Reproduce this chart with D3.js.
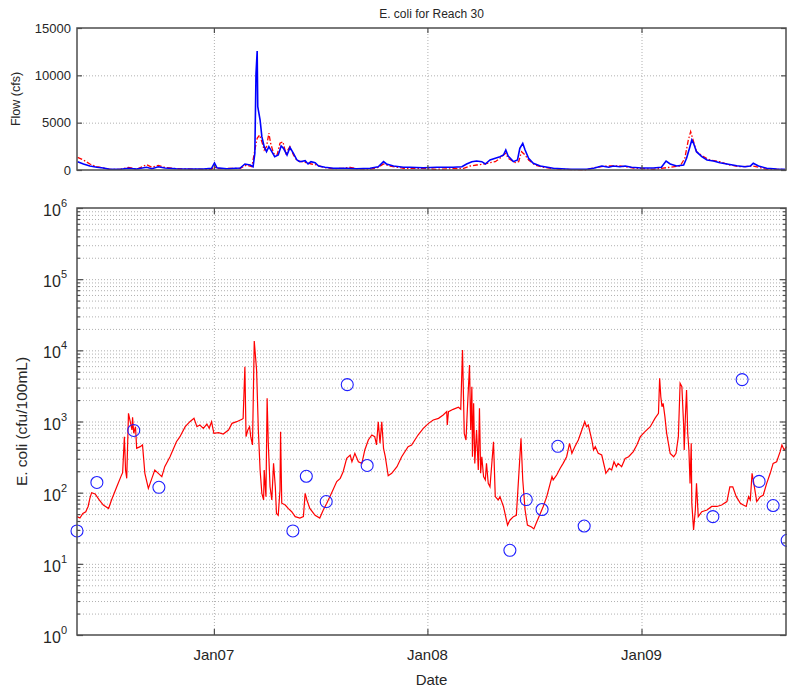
<!DOCTYPE html>
<html>
<head>
    <meta charset="utf-8">
    <title>E. coli for Reach 30</title>
    <script src="https://d3js.org/d3.v7.min.js"></script>
    <style>
        body { margin: 0; background: #fff; }
        svg { display: block; font-family: "Liberation Sans", Arial, sans-serif; }
        .grid line { stroke: #b0b0b0; stroke-dasharray: 1,2; }
        .grid .major line { stroke: #8c8c8c; }
        .grid path { display: none; }
    </style>
</head>
<body>
<svg width="787" height="688"></svg>
<script>
    // series start (day 0) - all day values below count from here
    const startDate = new Date(2006, 4, 12);
    const endDate = new Date(2009, 8, 5);

    // simulated E. coli (cfu/100mL), red line
    const ecoliDay = [0,5,10,15,19,22,25,31,38,45,54,59,68,75,78,81,83,85,88,91,94,95,97,100,102,108,112,116,122,128,133,139,145,150,159,170,176,185,193,200,205,210,216,222,226,230,234,242,250,259,265,273,282,284,287,289,292,295,297,300,303,307,310,313,316,319,320,323,325,327,330,333,336,339,341,344,347,348,350,356,361,367,373,381,387,390,393,398,407,415,421,427,435,444,450,455,461,467,470,475,481,487,492,498,504,509,512,515,518,521,524,527,532,538,547,555,566,572,583,592,601,609,618,626,632,633,635,643,652,656,659,662,665,667,671,673,675,676,678,680,683,686,688,690,692,695,698,700,703,706,712,715,720,723,729,736,740,746,751,753,759,762,766,770,777,781,786,792,797,803,812,814,820,826,831,837,842,846,851,857,863,868,871,874,880,883,886,891,897,903,904,910,914,918,922,925,931,937,943,951,957,963,971,980,988,994,996,998,1000,1002,1005,1008,1014,1020,1024,1028,1031,1034,1037,1038,1040,1042,1044,1046,1048,1050,1051,1054,1057,1059,1062,1068,1077,1085,1094,1102,1111,1116,1121,1127,1134,1139,1144,1148,1151,1154,1157,1162,1168,1173,1179,1185,1190,1196,1202,1205,1209,1213];
    const ecoliSim = [46,44,51,54,64,83,100,96,79,67,60,79,121,168,191,612,208,159,1300,993,760,1150,682,845,420,443,468,187,115,159,208,187,168,232,320,520,612,845,994,1107,845,893,802,922,802,994,682,697,667,760,942,994,1072,1107,5890,612,760,845,612,468,13500,5290,760,208,98,79,208,88,2120,494,121,79,258,121,51,48,109,720,71,67,60,54,46,44,46,98,79,60,48,44,57,71,98,143,159,197,303,338,272,357,272,258,398,550,646,612,468,994,494,994,420,320,173,187,232,320,443,468,646,802,942,1049,1107,1233,1374,893,1374,1483,1583,1483,10100,682,550,1300,6220,760,3080,320,1800,258,760,208,1530,187,320,168,151,258,135,121,520,88,79,88,64,35,41,46,48,88,580,151,57,35,33,31,39,51,64,88,168,151,177,220,258,320,494,357,443,550,760,994,845,893,550,398,443,357,338,208,187,220,208,272,232,258,232,303,320,377,468,612,720,845,1107,1300,4050,2230,1615,1800,1170,682,357,320,357,612,3440,3080,893,398,1170,2770,682,398,135,494,71,30,57,135,46,54,57,64,64,67,75,121,121,88,71,67,64,88,79,187,135,75,88,92,135,187,258,272,377,468,398,443];

    // observed E. coli samples, blue circles
    const obsDay = [0,34,97,140,369,392,426,462,496,740,768,795,822,867,1087,1137,1166,1190,1214];
    const obsEcoli = [29,139,748,119,29,170,75,3300,241,15.5,80,58,448,34,46,3880,144,66,21.4];

    // observed flow (cfs), blue solid
    const flowObsDay = [1,11,22,34,45,56,74,88,102,119,128,139,150,170,193,216,230,235,239,256,279,287,296,301,304,306,308,309,313,316,320,324,328,333,338,344,349,353,359,364,370,376,381,390,395,400,407,413,424,438,461,478,501,515,524,529,541,558,569,592,615,643,658,666,675,683,692,698,706,715,723,729,733,737,746,753,757,762,766,772,780,792,814,843,871,883,897,909,917,928,937,948,965,985,999,1007,1014,1025,1037,1042,1047,1051,1054,1059,1068,1077,1088,1099,1111,1128,1142,1151,1156,1165,1179,1196,1210];
    const flowObs = [876,634,422,285,211,74,74,180,106,285,137,348,211,137,106,106,180,750,243,137,211,634,528,348,1760,10200,12570,6690,5280,3520,2460,1935,2460,1935,1405,1584,2534,2290,1584,2390,1760,1056,880,985,634,880,775,422,285,180,180,137,180,348,880,634,422,285,285,243,285,285,348,634,880,950,880,634,1056,1235,1405,1584,2110,1478,880,1056,2290,2820,2110,1235,707,422,180,74,74,180,422,285,422,348,422,285,211,211,285,950,634,422,528,1235,2290,3170,2820,1935,1405,1056,950,775,634,457,348,422,707,422,180,106,74];

    // simulated flow (cfs), red dash-dot
    const flowSimDay = [1,11,22,34,45,56,74,88,102,119,128,139,150,170,216,230,235,239,279,290,299,304,308,312,316,320,324,328,331,336,342,347,352,357,364,370,376,384,393,401,410,421,438,455,467,478,501,515,524,535,558,586,615,643,661,672,683,695,706,715,723,729,733,737,749,755,760,766,772,783,797,826,871,888,906,928,951,985,1031,1039,1045,1049,1054,1059,1071,1082,1099,1116,1133,1156,1179,1210];
    const flowSim = [1340,1056,634,348,211,74,74,285,74,560,285,493,285,137,74,74,348,137,180,528,348,2110,3350,3700,2990,2110,2460,3900,2820,1760,1584,2820,2990,1760,2460,1584,985,880,775,634,528,285,137,180,285,137,74,285,634,422,180,180,74,137,180,422,528,634,775,880,1235,1584,1760,1235,775,880,1935,1584,1056,528,285,74,20,285,422,422,211,74,422,1235,3170,4050,2990,1935,1405,1056,880,528,348,422,74,74];

    const flowTicks = [0, 5000, 10000, 15000];
    const logMajors = [1, 10, 100, 1000, 10000, 100000, 1000000];
    const yearTicks = [new Date(2007, 0, 1), new Date(2008, 0, 1), new Date(2009, 0, 1)];

    const toDate = d => d3.timeDay.offset(startDate, d);

    const L = 77, R = 786;
    const T1 = 28, B1 = 170;   // flow panel
    const T2 = 208, B2 = 635;  // e. coli panel
    const textColor = "#262626";
    const frameColor = "#4d4d4d";

    const svg = d3.select("svg");

    const x = d3.scaleTime().domain([startDate, endDate]).range([L, R]);
    const yFlow = d3.scaleLinear().domain([0, 15000]).range([B1, T1]);
    const yLog = d3.scaleLog().domain([1, 1e6]).range([B2, T2]);

    // minor log values 2..9 per decade
    const logMinors = [];
    for (let k = 0; k < 6; k++) {
        for (let m = 2; m <= 9; m++) logMinors.push(m * Math.pow(10, k));
    }

    // ---------- gridlines ----------
    // flow panel
    svg.append("g").attr("class", "grid major")
        .attr("transform", `translate(${L},0)`)
        .call(d3.axisLeft(yFlow).tickValues([5000, 10000]).tickSize(-(R - L)).tickFormat(""));
    svg.append("g").attr("class", "grid")
        .attr("transform", `translate(0,${B1})`)
        .call(d3.axisBottom(x).tickValues(yearTicks).tickSize(-(B1 - T1)).tickFormat(""));

    // e. coli panel
    svg.append("g").attr("class", "grid")
        .attr("transform", `translate(${L},0)`)
        .call(d3.axisLeft(yLog).tickValues(logMinors).tickSize(-(R - L)).tickFormat(""));
    svg.append("g").attr("class", "grid major")
        .attr("transform", `translate(${L},0)`)
        .call(d3.axisLeft(yLog).tickValues(logMajors.slice(1, -1)).tickSize(-(R - L)).tickFormat(""));
    svg.append("g").attr("class", "grid")
        .attr("transform", `translate(0,${B2})`)
        .call(d3.axisBottom(x).tickValues(yearTicks).tickSize(-(B2 - T2)).tickFormat(""));

    // ---------- flow lines ----------
    const flowLine = d3.line().x(d => x(toDate(d[0]))).y(d => yFlow(d[1]));
    svg.append("path")
        .datum(d3.zip(flowSimDay, flowSim))
        .attr("d", flowLine)
        .attr("fill", "none")
        .attr("stroke", "#ff0000")
        .attr("stroke-width", 1.3)
        .attr("stroke-dasharray", "5,2,1.5,2");
    svg.append("path")
        .datum(d3.zip(flowObsDay, flowObs))
        .attr("d", flowLine)
        .attr("fill", "none")
        .attr("stroke", "#0000ff")
        .attr("stroke-width", 1.6);

    // ---------- e. coli ----------
    const ecoliLine = d3.line().x(d => x(toDate(d[0]))).y(d => yLog(d[1]));
    svg.append("path")
        .datum(d3.zip(ecoliDay, ecoliSim))
        .attr("d", ecoliLine)
        .attr("fill", "none")
        .attr("stroke", "#ff0000")
        .attr("stroke-width", 1.2);

    svg.append("g").selectAll("circle")
        .data(d3.zip(obsDay, obsEcoli))
        .enter().append("circle")
        .attr("cx", d => x(toDate(d[0])))
        .attr("cy", d => yLog(d[1]))
        .attr("r", 6)
        .attr("fill", "none")
        .attr("stroke", "#1f1fff")
        .attr("stroke-width", 1.1);

    // ---------- frames and ticks ----------
    function styleTicks(g) {
        g.select(".domain").remove();
        g.selectAll("line").attr("stroke", frameColor).attr("stroke-width", 1.2);
    }

    // flow panel ticks (inward, both sides)
    svg.append("g").attr("transform", `translate(${L},0)`)
        .call(d3.axisLeft(yFlow).tickValues(flowTicks).tickSize(-5).tickFormat(""))
        .call(styleTicks);
    svg.append("g").attr("transform", `translate(${R},0)`)
        .call(d3.axisRight(yFlow).tickValues(flowTicks).tickSize(-5).tickFormat(""))
        .call(styleTicks);
    svg.append("g").attr("transform", `translate(0,${B1})`)
        .call(d3.axisBottom(x).tickValues(yearTicks).tickSize(-5).tickFormat(""))
        .call(styleTicks);
    svg.append("g").attr("transform", `translate(0,${T1})`)
        .call(d3.axisTop(x).tickValues(yearTicks).tickSize(-5).tickFormat(""))
        .call(styleTicks);

    // e. coli panel ticks
    [[L, d3.axisLeft], [R, d3.axisRight]].forEach(([px, ax]) => {
        svg.append("g").attr("transform", `translate(${px},0)`)
            .call(ax(yLog).tickValues(logMajors).tickSize(-6).tickFormat(""))
            .call(styleTicks);
        svg.append("g").attr("transform", `translate(${px},0)`)
            .call(ax(yLog).tickValues(logMinors).tickSize(-3).tickFormat(""))
            .call(styleTicks);
    });
    svg.append("g").attr("transform", `translate(0,${B2})`)
        .call(d3.axisBottom(x).tickValues(yearTicks).tickSize(-6).tickFormat(""))
        .call(styleTicks);
    svg.append("g").attr("transform", `translate(0,${T2})`)
        .call(d3.axisTop(x).tickValues(yearTicks).tickSize(-6).tickFormat(""))
        .call(styleTicks);

    // boxes
    [[T1, B1], [T2, B2]].forEach(([t, b]) => {
        svg.append("rect")
            .attr("x", L).attr("y", t)
            .attr("width", R - L).attr("height", b - t)
            .attr("fill", "none")
            .attr("stroke", frameColor)
            .attr("stroke-width", 1.5);
    });

    // ---------- labels ----------
    svg.append("g").selectAll("text")
        .data(flowTicks)
        .enter().append("text")
        .attr("x", L - 6)
        .attr("y", d => yFlow(d))
        .attr("dy", "0.35em")
        .attr("text-anchor", "end")
        .attr("font-size", 13)
        .attr("fill", textColor)
        .text(d => d);

    const logLabels = svg.append("g").selectAll("text")
        .data(logMajors)
        .enter().append("text")
        .attr("x", L - 10)
        .attr("y", d => yLog(d) + 8)
        .attr("text-anchor", "end")
        .attr("font-size", 16)
        .attr("fill", textColor);
    logLabels.append("tspan").text("10");
    logLabels.append("tspan")
        .attr("font-size", 11)
        .attr("dy", -9)
        .text(d => Math.round(Math.log10(d)));

    svg.append("g").selectAll("text")
        .data(yearTicks)
        .enter().append("text")
        .attr("x", d => x(d))
        .attr("y", B2 + 25)
        .attr("text-anchor", "middle")
        .attr("font-size", 15)
        .attr("fill", textColor)
        .text(d3.timeFormat("%b%y"));

    svg.append("text")
        .attr("x", (L + R) / 2).attr("y", B2 + 50)
        .attr("text-anchor", "middle")
        .attr("font-size", 15)
        .attr("fill", textColor)
        .text("Date");

    svg.append("text")
        .attr("x", (L + R) / 2).attr("y", 18)
        .attr("text-anchor", "middle")
        .attr("font-size", 12)
        .attr("fill", textColor)
        .text("E. coli for Reach 30");

    svg.append("text")
        .attr("transform", `translate(20,${(T1 + B1) / 2}) rotate(-90)`)
        .attr("text-anchor", "middle")
        .attr("font-size", 12.5)
        .attr("fill", textColor)
        .text("Flow (cfs)");

    svg.append("text")
        .attr("transform", `translate(27,${(T2 + B2) / 2}) rotate(-90)`)
        .attr("text-anchor", "middle")
        .attr("font-size", 15.5)
        .attr("fill", textColor)
        .text("E. coli (cfu/100mL)");
</script>
</body>
</html>
